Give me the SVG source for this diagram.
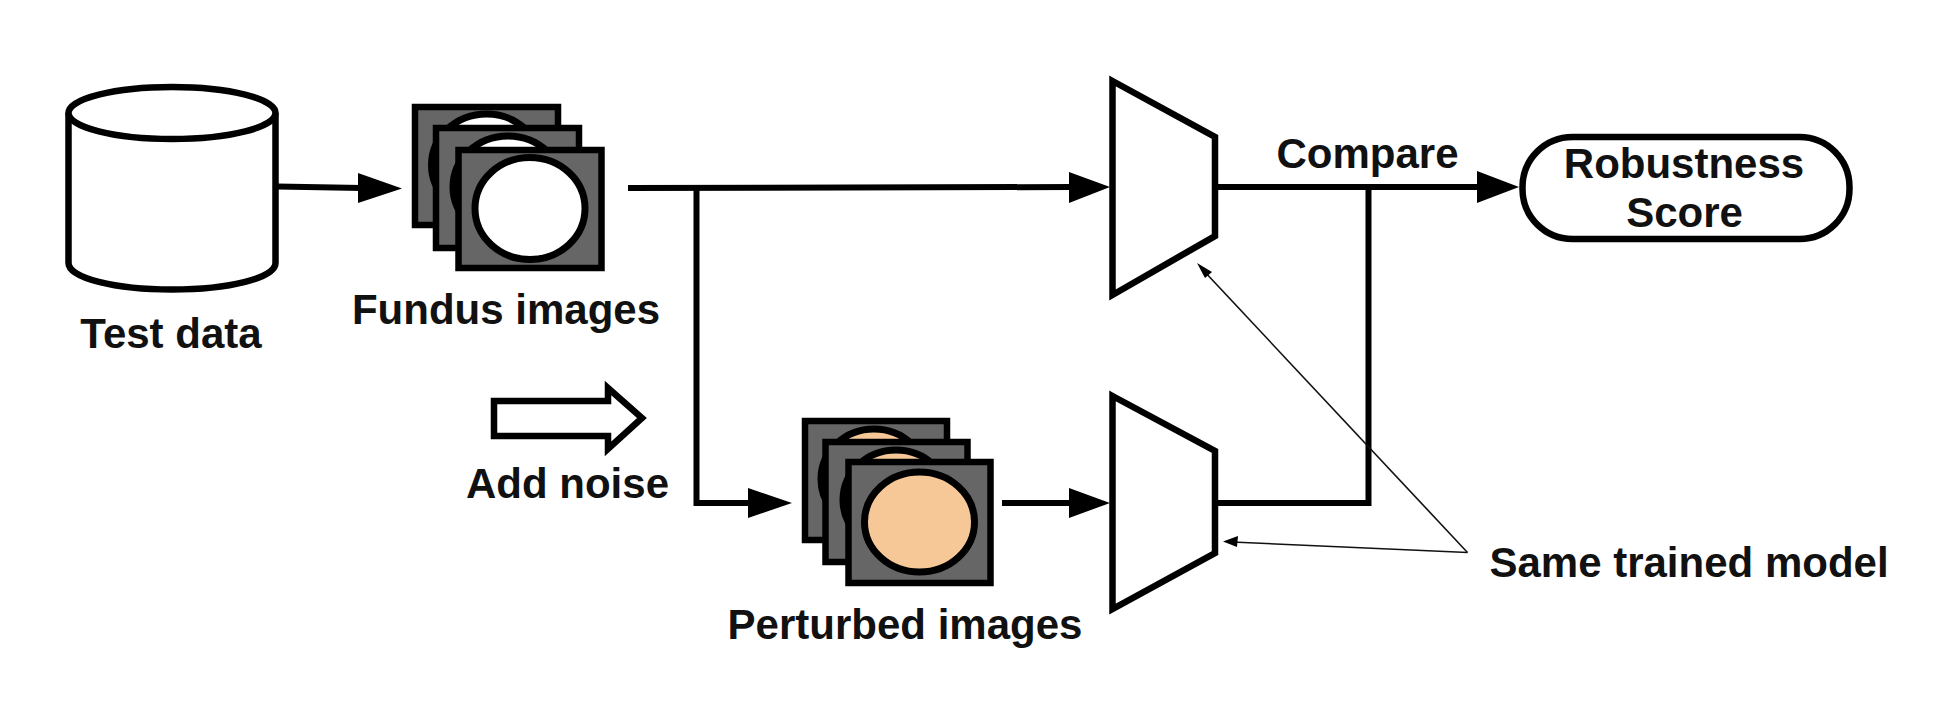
<svg xmlns="http://www.w3.org/2000/svg" width="1950" height="727" viewBox="0 0 1950 727">
<style>
.t{font-family:"Liberation Sans",Arial,sans-serif;font-weight:700;font-size:42px;fill:#111;text-anchor:middle}
.o{fill:#fff;stroke:#000;stroke-width:6.500;stroke-linejoin:miter}
.c{fill:none;stroke:#000;stroke-width:6;stroke-linejoin:miter}
.h{fill:#000;stroke:none}
.f{fill:#666;stroke:#000;stroke-width:6.500}
.e{fill:#fff;stroke:#000;stroke-width:7}
.p{fill:#f6c898;stroke:#000;stroke-width:7}
.n{fill:none;stroke:#111;stroke-width:1.600}
</style>
<rect width="1950" height="727" fill="#fff"/>
<g id="connectors">
<path class="c" d="M277 186.500L362 188"/><path class="h" d="M358 173L402 188.500L358 203Z"/>
<path class="c" d="M628 188L1072 187"/><path class="h" d="M1069 172L1110 187L1069 203Z"/>
<path class="c" d="M696.500 188V503H752"/><path class="h" d="M748 488L792 503L748 518Z"/>
<path class="c" d="M1002 503H1072"/><path class="h" d="M1069 488L1110 503L1069 518Z"/>
<path class="c" d="M1215 187H1480"/><path class="h" d="M1477 171L1519 187L1477 203Z"/>
<path class="c" d="M1215 503H1368.500V187"/>
<path class="n" d="M1467.500 552.500L1203 270"/><path class="h" d="M1197 263L1212 272L1205 278Z"/>
<path class="n" d="M1467.500 552.500L1232 542"/><path class="h" d="M1223 541.500L1238 536L1237 547Z"/>
</g>
<g id="test-data">
<path class="o" d="M68.500 113V263C68.500 278 115 289.500 172 289.500C229 289.500 275.500 278 275.500 263V113"/>
<ellipse class="o" cx="172" cy="113" rx="103.500" ry="26"/>
<text class="t" x="171" y="348">Test data</text>
</g>
<g id="fundus-images">
<rect class="f" x="415" y="107" width="143" height="118"/><ellipse class="e" cx="486.500" cy="165" rx="55" ry="51"/>
<rect class="f" x="436" y="128" width="143" height="120"/><ellipse class="e" cx="508" cy="187" rx="55" ry="51"/>
<rect class="f" x="458.500" y="150" width="143" height="118"/><ellipse class="e" cx="530" cy="208.500" rx="55" ry="51"/>
<text class="t" x="506" y="324">Fundus images</text>
</g>
<g id="add-noise">
<path class="o" d="M494 401H608V388L642 418L608 449V436H494Z"/>
<text class="t" x="567.500" y="498">Add noise</text>
</g>
<g id="perturbed-images">
<rect class="f" x="805" y="421" width="142" height="119"/><ellipse class="p" cx="874" cy="479" rx="53" ry="50"/>
<rect class="f" x="825.500" y="442" width="142" height="120"/><ellipse class="p" cx="896" cy="500" rx="53" ry="50"/>
<rect class="f" x="848.500" y="462" width="142" height="121"/><ellipse class="p" cx="919.500" cy="522" rx="55" ry="50"/>
<text class="t" x="905" y="639">Perturbed images</text>
</g>
<g id="model-top">
<path class="o" d="M1112.500 81L1215 137V236L1112.500 295Z"/>
</g>
<g id="model-bottom">
<path class="o" d="M1112.500 396L1215 451V553L1112.500 609Z"/>
</g>
<g id="compare"><text class="t" x="1367.500" y="168">Compare</text></g>
<g id="robustness-score">
<rect class="o" x="1522.500" y="137" width="327" height="102" rx="50" ry="50"/>
<text class="t" x="1684" y="178">Robustness</text>
<text class="t" x="1684.500" y="227">Score</text>
</g>
<g id="same-model"><text class="t" x="1689" y="577">Same trained model</text></g>
</svg>
